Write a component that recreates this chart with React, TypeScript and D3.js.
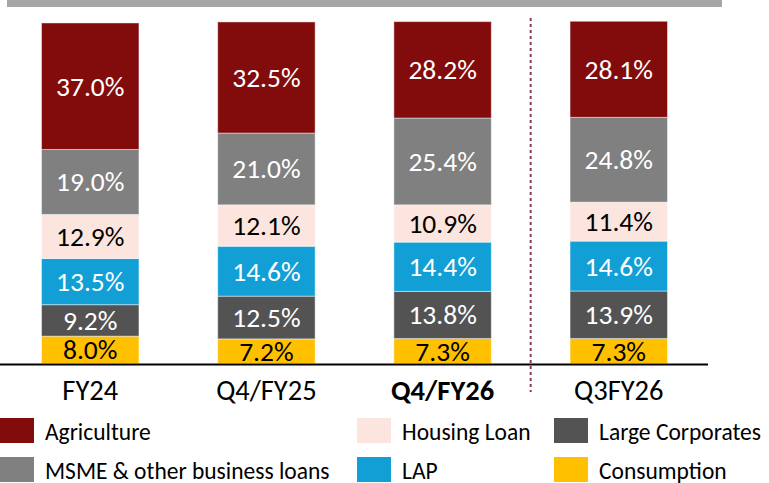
import React from "react";
import * as d3 from "d3";

const categories = ["FY24", "Q4/FY25", "Q4/FY26", "Q3FY26"];
const boldCategory = "Q4/FY26";
const seriesNames = ["Consumption", "Large Corporates", "LAP", "Housing Loan", "MSME & other business loans", "Agriculture"];
const consumption = [8.0, 7.2, 7.3, 7.3];
const largeCorporates = [9.2, 12.5, 13.8, 13.9];
const lap = [13.5, 14.6, 14.4, 14.6];
const housingLoan = [12.9, 12.1, 10.9, 11.4];
const msme = [19.0, 21.0, 25.4, 24.8];
const agriculture = [37.0, 32.5, 28.2, 28.1];
const seriesValues = [consumption, largeCorporates, lap, housingLoan, msme, agriculture];
const seriesColors = ["#ffc000", "#545354", "#119fd6", "#fce5de", "#808080", "#820c0c"];
const labelColors = ["#000000", "#ffffff", "#ffffff", "#000000", "#ffffff", "#ffffff"];
const legendRows = [
  ["Agriculture", "Housing Loan", "Large Corporates"],
  ["MSME & other business loans", "LAP", "Consumption"],
];

const W = 769;
const H = 483;
const FONT = "Carlito, Lato, sans-serif";

export default function App() {
  const x = d3.scaleBand<string>().domain(categories).range([1, 708]).paddingInner(0.447).paddingOuter(0.23);
  const y = d3.scaleLinear().domain([0, 100]).range([363.5, 21.6]);

  const rows = categories.map((c, i) => {
    const o: any = { cat: c };
    seriesNames.forEach((s, j) => (o[s] = seriesValues[j][i]));
    return o;
  });
  const stacked = d3.stack<any>().keys(seriesNames)(rows);

  const legendX = [0, 357, 554];
  const legendY = [418, 457];
  const colorOf = (name: string) => seriesColors[seriesNames.indexOf(name)];

  const sepX = ((x("Q4/FY26") as number) + x.bandwidth() + (x("Q3FY26") as number)) / 2;

  return (
    <div style={{ position: "fixed", left: 0, top: 0 }}>
      <svg width={W} height={H} style={{ display: "block", background: "#fff" }} fontFamily={FONT}>
        <rect x={7} y={0} width={715} height={7} fill="#a6a6a6" />
        {stacked.map((layer, j) => (
          <g key={layer.key}>
            {layer.map((d, i) => {
              const x0 = x(categories[i]) as number;
              const y0 = y(d[1]);
              const y1 = y(d[0]);
              return (
                <g key={i}>
                  <rect x={x0} y={y0} width={x.bandwidth()} height={y1 - y0} fill={seriesColors[j]} stroke="#ffffff" strokeOpacity={0.45} strokeWidth={1} />
                  <text x={x0 + x.bandwidth() / 2} y={(y0 + y1) / 2} textAnchor="middle" dominantBaseline="central" fontSize={27.5} fill={labelColors[j]}>
                    {seriesValues[j][i].toFixed(1) + "%"}
                  </text>
                </g>
              );
            })}
          </g>
        ))}
        <line x1={0} x2={708} y1={364.5} y2={364.5} stroke="#000" strokeWidth={2} />
        <line x1={sepX} x2={sepX} y1={18} y2={392} stroke="#8c3c5a" strokeWidth={2} strokeDasharray="3,3" />
        {categories.map((c) => (
          <text key={c} x={(x(c) as number) + x.bandwidth() / 2} y={399.5} textAnchor="middle" fontSize={28.5} fontWeight={c === boldCategory ? "bold" : "normal"} fill="#000">
            {c}
          </text>
        ))}
        {legendRows.map((row, r) =>
          row.map((name, k) => (
            <g key={name}>
              <rect x={legendX[k]} y={legendY[r]} width={34} height={25} fill={colorOf(name)} />
              <text x={legendX[k] + 45} y={legendY[r] + 13.5} dominantBaseline="central" fontSize={23.5} fill="#000">
                {name}
              </text>
            </g>
          ))
        )}
      </svg>
    </div>
  );
}
